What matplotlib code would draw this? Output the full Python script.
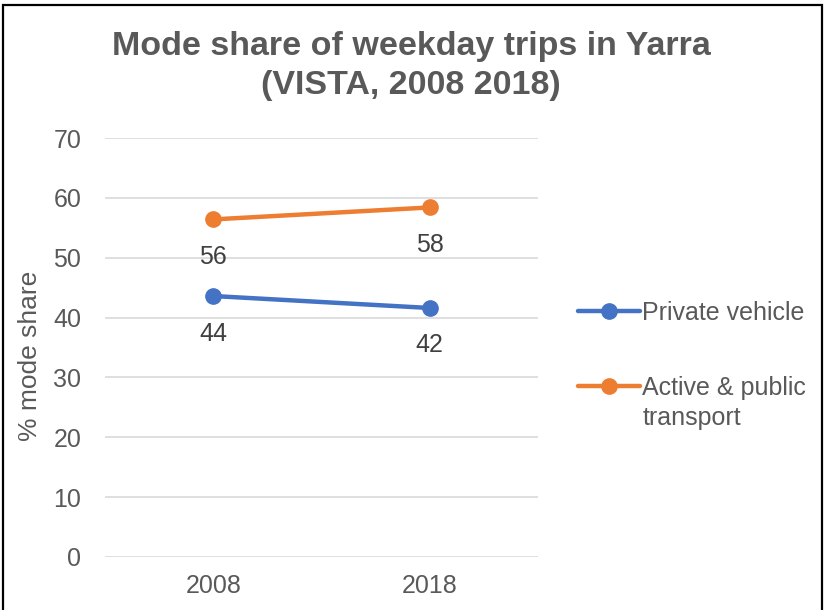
import matplotlib
matplotlib.use("Agg")
import matplotlib.pyplot as plt
from matplotlib.patches import Rectangle

plt.rcParams['font.family'] = ['Liberation Sans', 'DejaVu Sans']

# data
years = ["2008", "2018"]
private_vehicle = [43.6, 41.6]
active_public = [56.4, 58.4]
series_names = ["Private vehicle", "Active & public"]
series_colors = ["#4472C4", "#ED7D31"]

text_grey = "#595959"
label_grey = "#404040"
fs = 18

fig = plt.figure(figsize=(8.27, 6.10), dpi=100)
ax = fig.add_axes([105 / 827, 1 - 557 / 610, (538 - 105) / 827, (557 - 138) / 610])

x = list(range(len(years)))
handles = []
for vals, name, col in zip([private_vehicle, active_public], series_names, series_colors):
    h, = ax.plot(x, vals, color=col, lw=3.2, marker='o', markersize=11,
                 solid_capstyle='round', label=name, zorder=3)
    handles.append(h)
    # data labels below each point, rounded like the source
    for xi, v in zip(x, vals):
        ax.annotate(f"{v:.0f}", (xi, v), xytext=(0, -27), textcoords='offset points',
                    ha='center', va='center', fontsize=fs, color=label_grey)

ax.set_xlim(-0.5, len(years) - 0.5)
ax.set_ylim(0, 70)
ax.set_yticks(range(0, 71, 10))
ax.set_xticks(x)
ax.set_xticklabels(years)
ax.tick_params(axis='both', length=0, labelsize=fs, labelcolor=text_grey)
ax.tick_params(axis='y', pad=17)
ax.tick_params(axis='x', pad=12)
ax.grid(axis='y', color='#d9d9d9', lw=1.2)
ax.set_axisbelow(True)
for s in ax.spines.values():
    s.set_visible(False)

ax.set_ylabel("% mode share", fontsize=fs + 1, color=text_grey)
ax.yaxis.set_label_coords(-0.145, 0.48)

fig.text(0.497, 1 - 31 / 610, "Mode share of weekday trips in Yarra\n(VISTA, 2008 2018)",
         ha='center', va='top', fontsize=24.5, fontweight='bold', color=text_grey,
         linespacing=1.33)

leg = ax.legend(handles=handles, loc='upper left', bbox_to_anchor=(555 / 827, 1 - 278 / 610),
                bbox_transform=fig.transFigure, frameon=False, fontsize=fs,
                handlelength=2.5, handletextpad=0.1, labelspacing=2.05,
                labelcolor=text_grey)

# second line of the orange legend label, set under the first line
fig.canvas.draw()
t2 = leg.get_texts()[1]
bb = t2.get_window_extent()
fig.text(bb.x0 / fig.bbox.width, (bb.y0 - 30) / fig.bbox.height, "transport",
         ha='left', va='bottom', fontsize=fs, color=text_grey)

# black frame round the picture, the bottom edge is cut off in the source
fig.patches.append(Rectangle((3 / 827, -0.02), 819 / 827, 1.02 - 5 / 610,
                             transform=fig.transFigure, fill=False,
                             edgecolor='black', lw=1.6))

fig.savefig("out.png", dpi=100)
